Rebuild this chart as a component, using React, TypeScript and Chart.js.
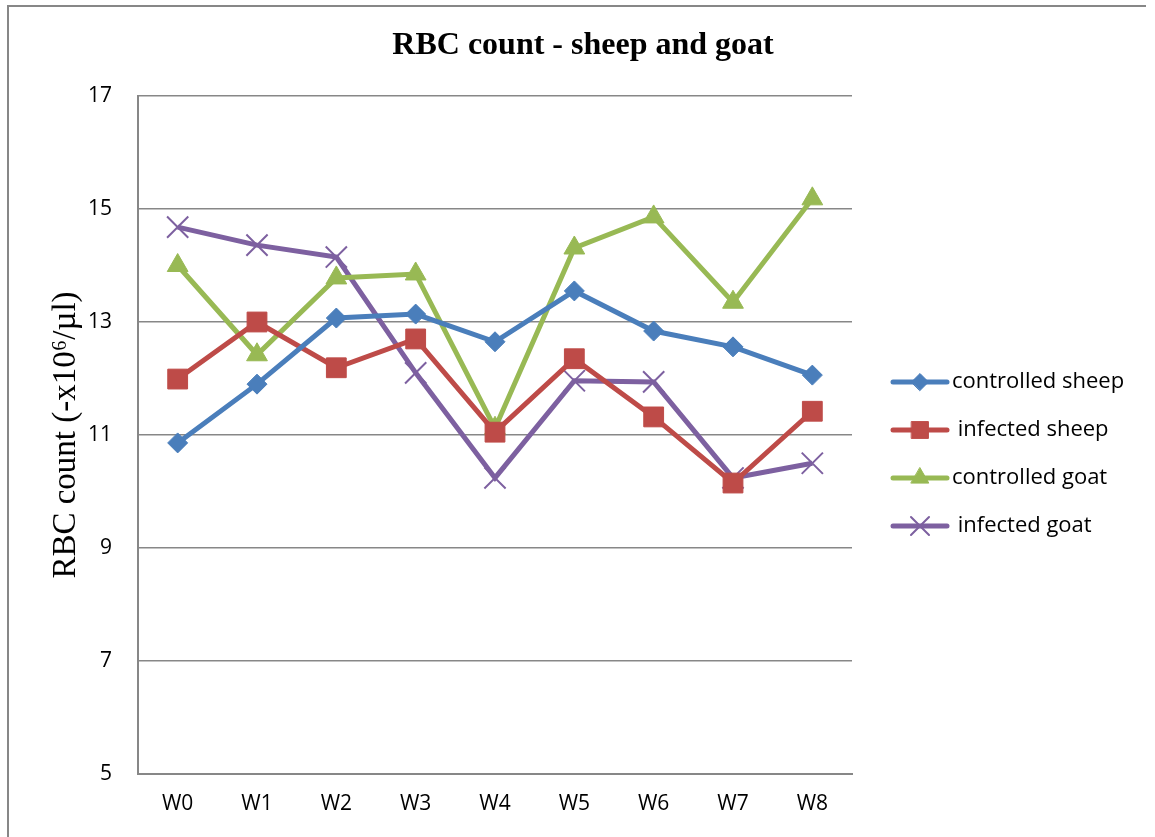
import React, { useEffect, useRef } from "react";
import { Chart, registerables } from "chart.js";
import { drawPoint } from "chart.js/helpers";

Chart.register(...registerables);

const categories = ["W0", "W1", "W2", "W3", "W4", "W5", "W6", "W7", "W8"];
const controlledSheep = [10.86, 11.9, 13.07, 13.14, 12.65, 13.55, 12.84, 12.56, 12.06];
const infectedSheep = [11.99, 13.0, 12.19, 12.7, 11.05, 12.35, 11.32, 10.15, 11.42];
const controlledGoat = [14.0, 12.42, 13.78, 13.85, 11.12, 14.31, 14.86, 13.35, 15.18];
const infectedGoat = [14.68, 14.36, 14.15, 12.1, 10.24, 11.96, 11.94, 10.24, 10.5];
const seriesNames = ["controlled sheep", " infected sheep", "controlled goat", " infected goat"];
const yMin = 5;
const yMax = 17;
const yStep = 2;
const chartTitle = "RBC count - sheep and goat";
const yAxisTitle = "RBC count (-x10\u2076/\u00b5l)";

const colors = ["#4A7EBB", "#BE4B48", "#98B954", "#7D60A0"];
const styles = ["rectRot", "rect", "triangle", "crossRot"];
const radii = [10, 14, 12, 15];
const borderWidths = [1, 1, 1, 2];

const frame = {
  id: "frame",
  beforeDraw(chart: any) {
    const ctx = chart.ctx;
    ctx.save();
    ctx.strokeStyle = "#878787";
    ctx.lineWidth = 2;
    ctx.beginPath();
    ctx.moveTo(8, chart.height);
    ctx.lineTo(8, 6);
    ctx.lineTo(1146, 6);
    ctx.stroke();
    ctx.restore();
  },
};

const titlePlugin = {
  id: "centeredTitle",
  afterDraw(chart: any) {
    const ctx = chart.ctx;
    ctx.save();
    ctx.fillStyle = "#000";
    ctx.font = "bold 32px 'Liberation Serif'";
    ctx.textAlign = "center";
    ctx.textBaseline = "middle";
    ctx.fillText(chartTitle, 583, 46);
    ctx.restore();
  },
};

const customLegend = {
  id: "customLegend",
  afterDraw(chart: any) {
    const ctx = chart.ctx;
    const area = chart.chartArea;
    const x0 = area.right + 41;
    const x1 = x0 + 54;
    const baseY = 382;
    ctx.save();
    chart.data.datasets.forEach((ds: any, i: number) => {
      const y = baseY + i * 48;
      ctx.strokeStyle = ds.borderColor;
      ctx.lineWidth = 5;
      ctx.lineCap = "round";
      ctx.beginPath();
      ctx.moveTo(x0, y);
      ctx.lineTo(x1, y);
      ctx.stroke();
      ctx.fillStyle = ds.borderColor;
      ctx.strokeStyle = ds.borderColor;
      ctx.lineWidth = ds.pointBorderWidth;
      drawPoint(ctx, { pointStyle: ds.pointStyle, radius: ds.pointRadius * 0.85, rotation: 0, borderWidth: ds.pointBorderWidth }, (x0 + x1) / 2, y);
      ctx.fillStyle = "#000";
      ctx.font = "22px 'Open Sans'";
      ctx.textBaseline = "middle";
      ctx.textAlign = "left";
      ctx.fillText(ds.label, x1 + 5, y);
    });
    ctx.restore();
  },
};

export default function App() {
  const ref = useRef<HTMLCanvasElement>(null);
  useEffect(() => {
    document.body.style.margin = "0";
    const seriesData = [controlledSheep, infectedSheep, controlledGoat, infectedGoat];
    const chart = new Chart(ref.current!, {
      type: "line",
      data: {
        labels: categories,
        datasets: seriesData.map((d, i) => ({
          label: seriesNames[i],
          data: d,
          borderColor: colors[i],
          backgroundColor: colors[i],
          pointBackgroundColor: colors[i],
          pointBorderColor: colors[i],
          pointStyle: styles[i] as any,
          pointRadius: radii[i],
          pointBorderWidth: borderWidths[i],
          borderWidth: 5,
          tension: 0,
          fill: false,
        })),
      },
      options: {
        responsive: false,
        animation: false,
        layout: { padding: { left: 0, right: 303, top: 96, bottom: 0 } },
        plugins: {
          legend: { display: false },
          tooltip: { enabled: false },
          title: { display: false },
        },
        scales: {
          x: {
            offset: true,
            afterFit(scale: any) {
              scale.height = 63;
            },
            grid: { display: false, drawTicks: false },
            border: { display: true, color: "#878787", width: 2 },
            ticks: { color: "#000", font: { family: "Open Sans", size: 21 }, padding: 17 },
          },
          y: {
            min: yMin,
            max: yMax,
            afterFit(scale: any) {
              scale.width = 138;
            },
            ticks: { stepSize: yStep, color: "#000", font: { family: "Open Sans", size: 21 }, padding: 26 },
            grid: { color: "#878787", lineWidth: 1.5, drawTicks: false },
            border: { display: true, color: "#878787", width: 2 },
            title: {
              display: true,
              text: yAxisTitle,
              color: "#000",
              font: { family: "Liberation Serif", size: 33 },
              padding: { top: 47, bottom: 0 },
            },
          },
        },
      },
      plugins: [frame, titlePlugin, customLegend],
    });
    return () => chart.destroy();
  }, []);
  return (
    <div style={{ width: 1155, height: 837 }}>
      <canvas ref={ref} width={1155} height={837} style={{ width: 1155, height: 837, display: "block" }} />
    </div>
  );
}
